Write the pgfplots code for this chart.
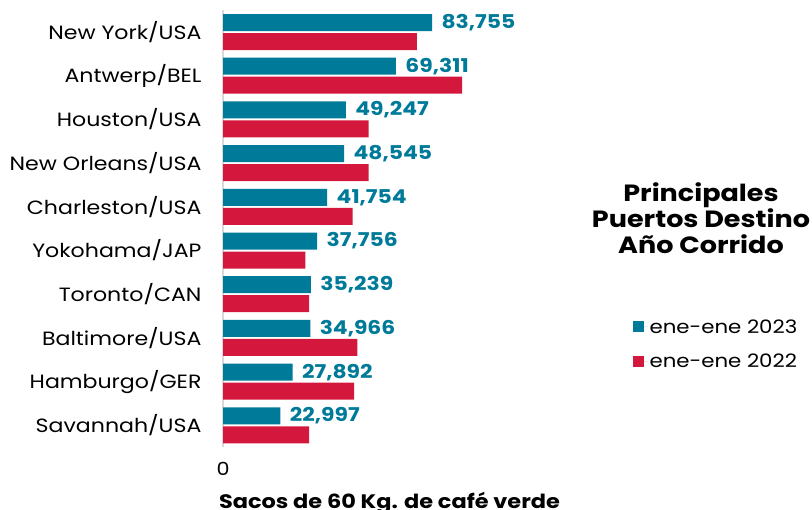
\documentclass[border=0pt]{standalone}
\usepackage{fontspec}
\setmainfont{Poppins}[FakeStretch=1.15]
\usepackage{pgfplots}
\pgfplotsset{compat=1.18}
\definecolor{teal23}{RGB}{0,122,153}
\definecolor{red22}{RGB}{212,24,61}
\begin{document}
\begin{tikzpicture}
\useasboundingbox (0bp,0bp) rectangle (812bp,510bp);
\begin{axis}[
  at={(223bp,62.8bp)}, anchor=south west,
  scale only axis, width=337bp, height=437bp,
  xbar, bar width=17bp,
  xmin=0, xmax=135050, ymin=-0.5, ymax=9.5,
  scaled x ticks=false,
  ytick={0,...,9},
  yticklabels={Savannah/USA, Hamburgo/GER, Baltimore/USA, Toronto/CAN, Yokohama/JAP, Charleston/USA, New Orleans/USA, Houston/USA, Antwerp/BEL, New York/USA},
  xtick={0},
  xticklabel style={anchor=north, yshift=-12bp, font=\fontsize{18bp}{20bp}\selectfont},
  yticklabel style={anchor=east, xshift=-18bp, font=\fontsize{19.2bp}{22bp}\selectfont},
  /pgf/number format/assume math mode=true,
  major tick length=0pt,
  axis lines*=left,
  x axis line style={draw=none},
  y axis line style={draw=black!15, line width=1.5bp},
  clip=false,
  legend style={at={(axis description cs:1.206,0.302)}, anchor=north west, draw=none, fill=none,
    font=\fontsize{18.5bp}{22bp}\selectfont, row sep=15bp},
  legend cell align=left,
  legend image code/.code={\fill[#1] (0bp,-5.5bp) rectangle (11bp,5.5bp); \path (11bp,0bp) -- (15bp,0bp);},
]
\addplot[fill=teal23, draw=none, bar shift=9.5bp,
  nodes near coords={\pgfmathprintnumber[fixed,precision=0,1000 sep={,}]{\pgfplotspointmeta}},
  point meta=x,
  nodes near coords style={anchor=west, xshift=6bp, text=teal23, font=\bfseries\fontsize{19bp}{21bp}\selectfont}]
  coordinates {(22997,0) (27892,1) (34966,2) (35239,3) (37756,4) (41754,5) (48545,6) (49247,7) (69311,8) (83755,9)};
\addlegendentry{ene-ene 2023}
\addplot[fill=red22, draw=none, bar shift=-9.5bp]
  coordinates {(34500,0) (52500,1) (53800,2) (34500,3) (33000,4) (51900,5) (58400,6) (58400,7) (95800,8) (77700,9)};
\addlegendentry{ene-ene 2022}
\end{axis}
\node[align=center, font=\bfseries\fontsize{23.5bp}{26bp}\selectfont] at (701bp,291.5bp) {Principales\\Puertos Destino\\Año Corrido};
\node[anchor=base, font=\bfseries\fontsize{19.5bp}{22bp}\selectfont, inner sep=0pt] at (389.5bp,2bp) {Sacos de 60 Kg. de café verde};
\end{tikzpicture}
\end{document}
